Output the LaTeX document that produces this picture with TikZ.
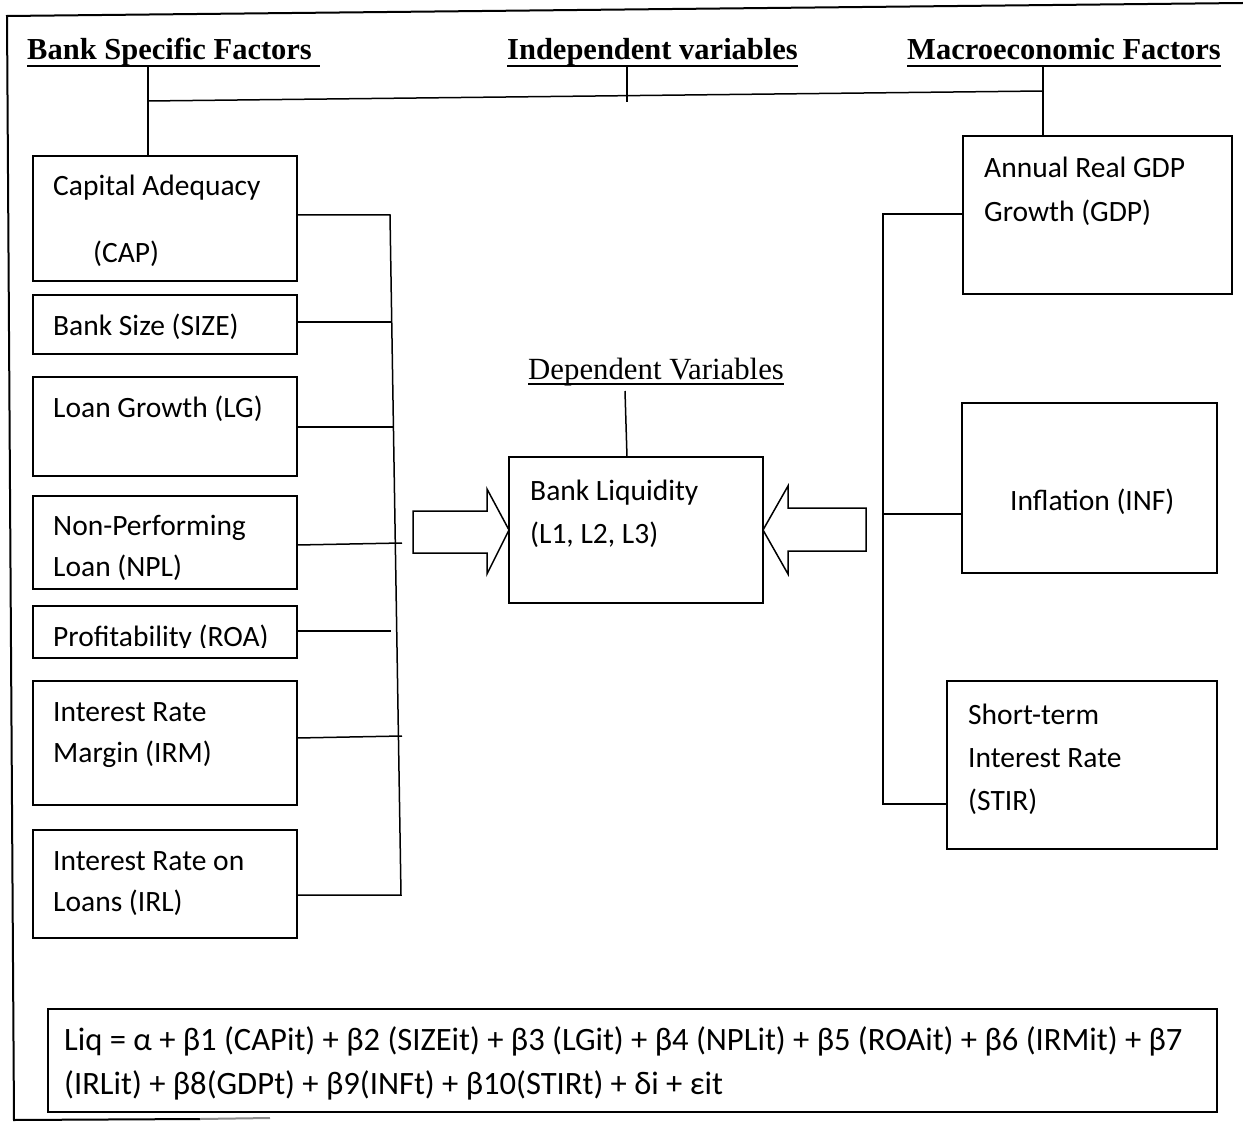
\documentclass[tikz,border=0pt]{standalone}
\usepackage{fontspec}
\setmainfont{Carlito}
\newfontfamily\tnr{Liberation Serif}
\usetikzlibrary{calc}
\tikzset{
  box/.style={draw, line width=1.7pt, inner sep=0pt, outer sep=0pt, anchor=north west},
  txt/.style={font=\fontsize{29.5}{35}\selectfont, inner sep=0pt, anchor=base west},
  eqtxt/.style={font=\fontsize{32.6}{38}\selectfont, inner sep=0pt, anchor=base west},
  head/.style={font=\tnr\bfseries\fontsize{30.5}{36}\selectfont, inner sep=0pt, anchor=base west},
  subhead/.style={font=\tnr\fontsize{30.8}{36}\selectfont, inner sep=0pt, anchor=base west},
  conn/.style={line width=1.5pt},
  frame/.style={line width=2pt},
  uline/.style={line width=2.6pt},
  blockarrow/.style={line width=1.5pt, line join=miter}
}
\begin{document}
\begin{tikzpicture}[x=1pt,y=-1pt]
\useasboundingbox (0,0) rectangle (1243,1126);

% outer frame (open on the right)
\coordinate (fTL) at (7,16);
\coordinate (fTR) at (1243,3);
\coordinate (fBL) at (14,1120);
\coordinate (fB1) at (200,1119);
\coordinate (fB2) at (270,1118);
\draw[frame] (fTR) -- (fTL) -- (fBL) -- (fB1);
\draw[frame, black!45] (fB1) -- (fB2);

% headings
\node[head] (hbank) at (27,60) {Bank Specific Factors\hspace*{0.25em}};
\node[head] (hind) at (507,60) {Independent variables};
\node[head] (hmac) at (907,60) {Macroeconomic Factors};
\draw[uline] ([yshift=-6pt]hbank.base west) -- ([yshift=-6pt]hbank.base east);
\draw[uline] ([yshift=-6pt]hind.base west) -- ([yshift=-6pt]hind.base east);
\draw[uline] ([yshift=-6pt]hmac.base west) -- ([yshift=-6pt]hmac.base east);

% left boxes
\node[box, minimum width=264, minimum height=125] (cap) at (33,156) {};
\node[box, minimum width=264, minimum height=59] (size) at (33,295) {};
\node[box, minimum width=264, minimum height=99] (lg) at (33,377) {};
\node[box, minimum width=264, minimum height=93] (npl) at (33,496) {};
\node[box, minimum width=264, minimum height=52] (roa) at (33,606) {};
\node[box, minimum width=264, minimum height=124] (irm) at (33,681) {};
\node[box, minimum width=264, minimum height=108] (irl) at (33,830) {};

\node[txt] (capA) at (53,196) {Capital Adequacy};
\node[txt] (capB) at (93,263) {(CAP)};
\node[txt] (sizeA) at (53,335) {Bank Size (SIZE)};
\node[txt] (lgA) at (53,417) {Loan Growth (LG)};
\node[txt] (nplA) at (53,535) {Non-Performing};
\node[txt] (nplB) at (53,576) {Loan (NPL)};
\begin{scope}
  \clip (33,606) rectangle (297,647);
  \node[txt] (roaA) at (53,646) {Profitability (ROA)};
\end{scope}
\node[txt] (irmA) at (53,721) {Interest Rate};
\node[txt] (irmB) at (53,762) {Margin (IRM)};
\node[txt] (irlA) at (53,870) {Interest Rate on};
\node[txt] (irlB) at (53,911) {Loans (IRL)};

% right boxes
\node[box, minimum width=269, minimum height=158] (gdp) at (963,136) {};
\node[box, minimum width=255, minimum height=170] (inf) at (962,403) {};
\node[box, minimum width=270, minimum height=168] (stir) at (947,681) {};
\node[txt] (gdpA) at (984,178) {Annual Real GDP};
\node[txt] (gdpB) at (984,222) {Growth (GDP)};
\node[txt] (infA) at (1010,510) {Inflation (INF)};
\node[txt] (stirA) at (968,724) {Short-term};
\node[txt] (stirB) at (968,767) {Interest Rate};
\node[txt] (stirC) at (968,810) {(STIR)};

% centre
\node[subhead] (hdep) at (528,379) {Dependent Variables};
\draw[line width=1.4pt] ([yshift=-5pt]hdep.base west) -- ([yshift=-5pt]hdep.base east);
\node[box, minimum width=254, minimum height=146] (liq) at (509,457) {};
\node[txt] (liqA) at (530,500) {Bank Liquidity};
\node[txt] (liqB) at (530,543) {(L1, L2, L3)};
\coordinate (depTop) at (625,391);
\draw[conn] (depTop) -- ($(liq.north west)+(118,0)$);

% top connector tree
\coordinate (jL) at (148,101);
\coordinate (jR) at (1043,91);
\coordinate (jMa) at (627,66);
\coordinate (jMb) at (627,102);
\draw[conn] (jL) -- (jR);
\draw[conn] (jMa) -- (jMb);
\draw[conn] (148,66) -- (jL) -- (jL |- cap.north);
\draw[conn] (1043,66) -- (jR) -- (jR |- gdp.north);

% left bus
\coordinate (bT) at (390,215);
\coordinate (bB) at (401,895);
\draw[conn] ($(cap.north east)+(0,59)$) -- (bT) -- (bB) -- ($(irl.north east)+(0,65)$);
\draw[conn] ($(size.north east)+(0,27)$) -- (392,322);
\draw[conn] ($(lg.north east)+(0,50)$) -- (394,427);
\draw[conn] ($(npl.north east)+(0,49)$) -- (402,543);
\draw[conn] ($(roa.north east)+(0,25)$) -- (391,631);
\draw[conn] ($(irm.north east)+(0,57)$) -- (402,736);

% right bus
\coordinate (rT) at (883,214);
\coordinate (rB) at (883,804);
\draw[conn] ($(gdp.north west)+(0,78)$) -- (rT) -- (rB) -- ($(stir.north west)+(0,123)$);
\draw[conn] (rT |- 0,514) -- ($(inf.north west)+(0,111)$);

% block arrows
\draw[blockarrow] (liq.west) -- ++(-22,-41) -- ++(0,22) -- ++(-74,0) -- ++(0,42) -- ++(74,0) -- ++(0,21) -- cycle;
\draw[blockarrow] (liq.east) -- ++(25,-44) -- ++(0,22) -- ++(78,0) -- ++(0,43) -- ++(-78,0) -- ++(0,23) -- cycle;

% equation
\node[box, minimum width=1169, minimum height=103] (eq) at (48,1009) {};
\node[eqtxt] (eqA) at (64,1050) {Liq = α + β1 (CAPit) + β2 (SIZEit) + β3 (LGit) + β4 (NPLit) + β5 (ROAit) + β6 (IRMit) + β7};
\node[eqtxt] (eqB) at (64,1094) {(IRLit) + β8(GDPt) + β9(INFt) + β10(STIRt) + δi + εit};
\end{tikzpicture}
\end{document}
